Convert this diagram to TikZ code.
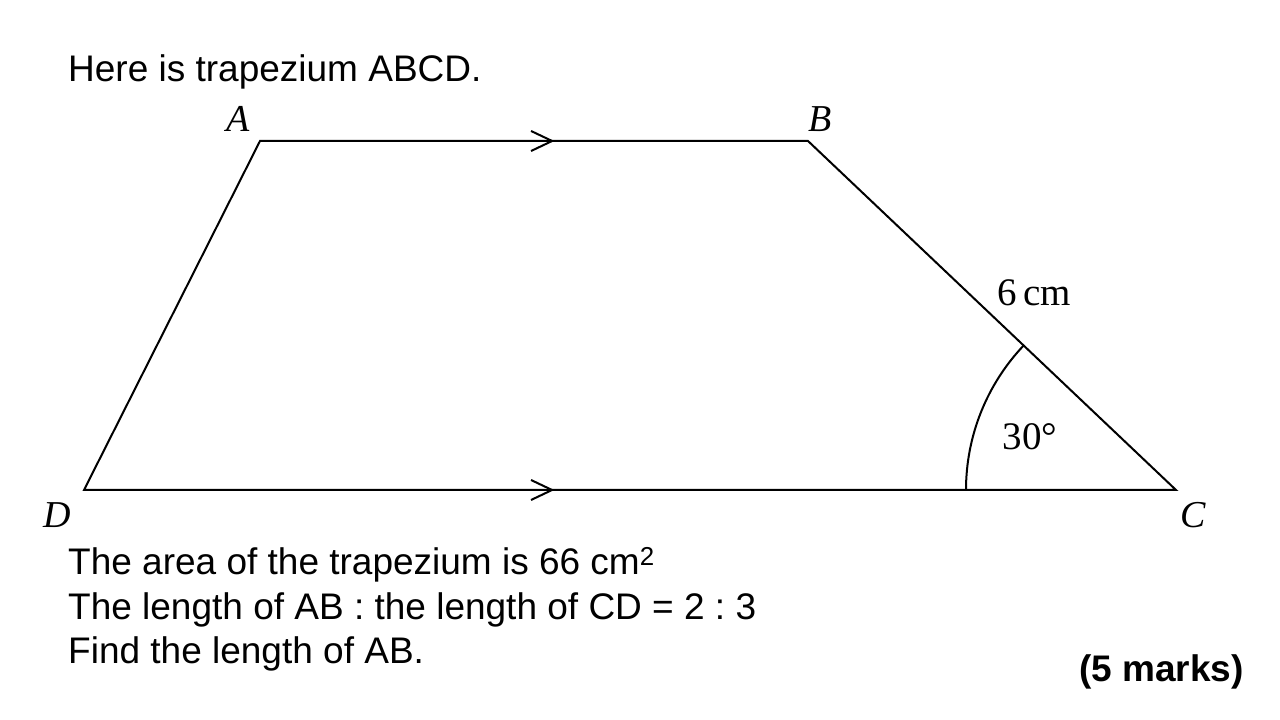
\documentclass[tikz,border=0pt]{standalone}
\usepackage{fontspec}
\setmainfont{Liberation Sans}
\newfontfamily\tnr{Liberation Serif}
\usetikzlibrary{calc}
\frenchspacing
\begin{document}
\begin{tikzpicture}[x=1pt,y=1pt,
  edge/.style={line width=2pt, line join=miter},
  lbl/.style={font=\tnr\fontsize{38}{40}\selectfont\itshape, inner sep=0pt},
  meas/.style={font=\tnr\fontsize{39}{41}\selectfont, inner sep=0pt},
  body/.style={font=\fontsize{37}{40}\selectfont, inner sep=0pt, anchor=base west}]
\useasboundingbox (0,0) rectangle (1280,720);
\fill[white] (0,0) rectangle (1280,720);
\coordinate (A) at (260,579);
\coordinate (B) at (808,579);
\coordinate (C) at (1176,230);
\coordinate (D) at (84,230);
\draw[edge] (D) -- (A) -- (B) -- (C) -- cycle;
% parallel marks
\coordinate (m1) at ($(A)!0.533!(B)$);
\coordinate (m2) at ($(D)!0.4286!(C)$);
\draw[edge] (m1) ++(-21,10) -- (m1) -- ++(-21,-10);
\draw[edge] (m2) ++(-21,10) -- (m2) -- ++(-21,-10);
% angle arc
\coordinate (a0) at ($(C)+(-210,0)$);
\draw[edge] (a0) arc[start angle=180, end angle=136.5, radius=210];
% labels
\node[lbl] (lA) at (238,601) {A};
\node[lbl] (lB) at (820,601) {B};
\node[lbl] (lD) at (57,205) {D};
\node[lbl] (lC) at (1193,205) {C};
\node[meas] (l6) at (1034,427) {6\,cm};
\node[meas] (l30) at (1030,283) {30°};
% text
\node[body] (t1) at (68,638) {Here is trapezium ABCD.};
\node[body] (t2) at (68,145) {The area of the trapezium is 66 cm\textsuperscript{2}};
\node[body] (t3) at (68,100) {The length of AB : the length of CD = 2 : 3};
\node[body] (t4) at (68,56) {Find the length of AB.};
\node[font=\fontsize{37}{40}\selectfont\bfseries, inner sep=0pt, anchor=base east] (t5) at (1244,38) {(5 marks)};
\end{tikzpicture}
\end{document}
